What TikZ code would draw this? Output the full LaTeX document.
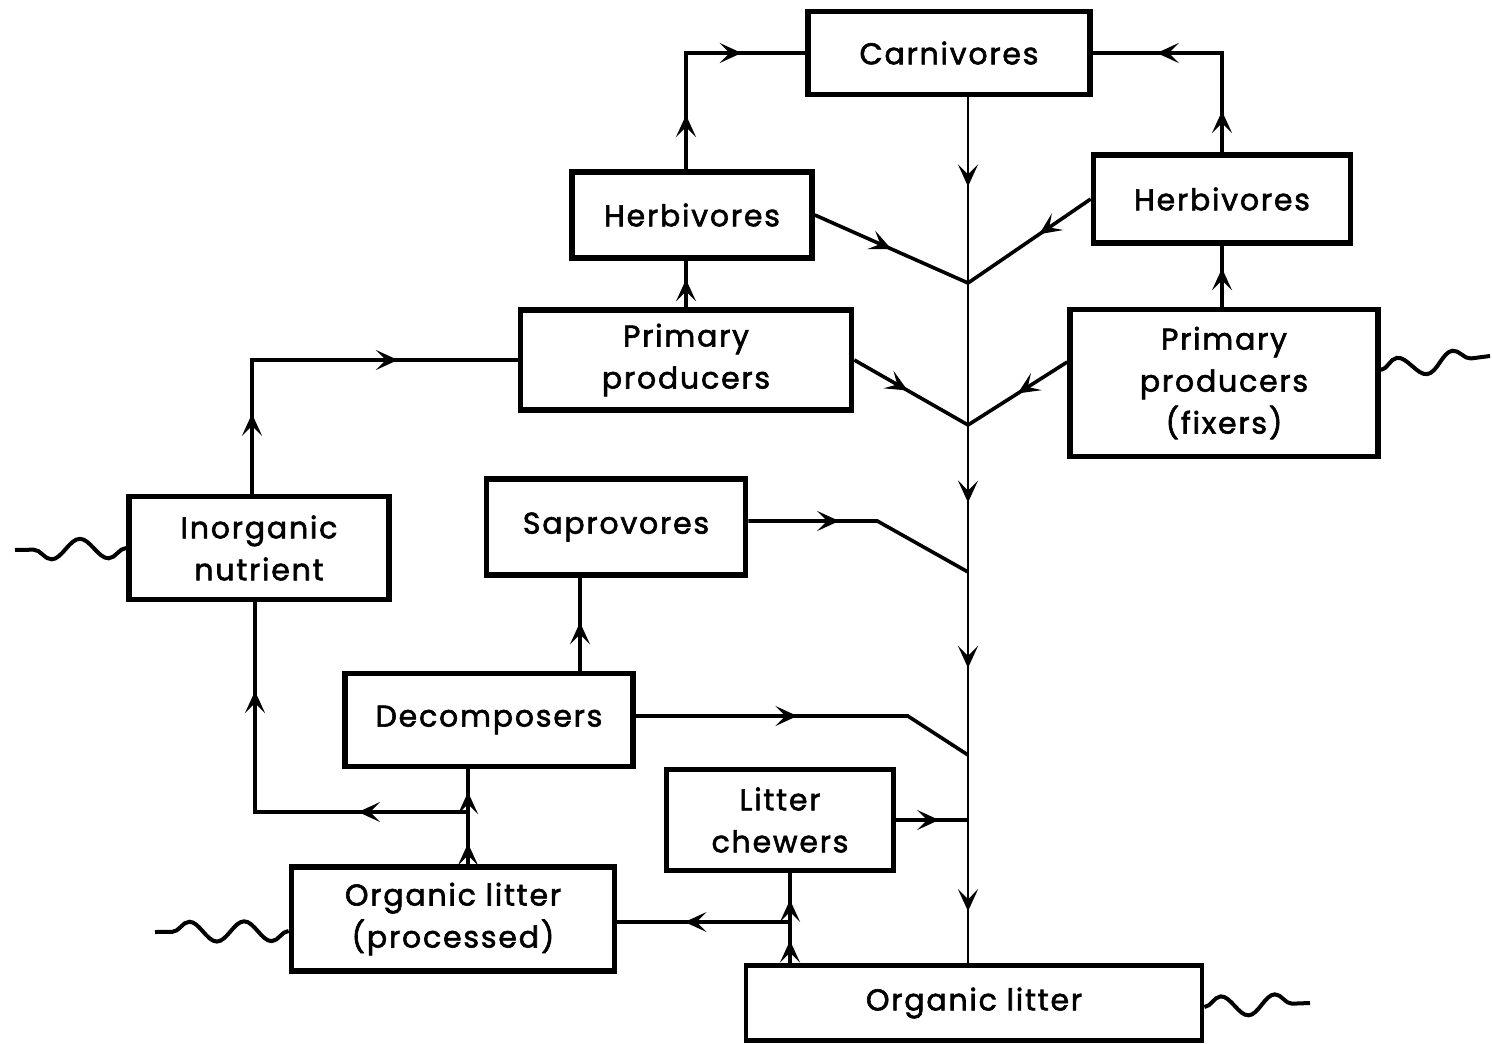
\documentclass[tikz,border=0pt]{standalone}
\usepackage{fontspec}
\setmainfont{Poppins}[LetterSpace=6, FakeBold=2]
\usetikzlibrary{arrows.meta,decorations.markings,decorations.pathmorphing,calc}
\begin{document}
\begin{tikzpicture}[x=0.5pt,y=-0.5pt,
  box/.style={draw, line width=2.8pt, align=center, inner sep=0pt,
    font=\fontsize{15}{21}\selectfont},
  sz/.style 2 args={minimum width=#1*0.5pt, minimum height=#2*0.5pt},
  conn/.style={line width=1.8pt},
  trunk/.style={line width=1.3pt},
  arr/.style={postaction={decorate,decoration={markings,
    mark=at position #1 with {\arrow{Stealth[length=11pt,width=10pt,inset=5pt]}}}}},
  wave/.style={line width=2pt, decorate,
    decoration={snake, amplitude=5pt, segment length=#1}},
]
\useasboundingbox (0,0) rectangle (1492,1043);

% boxes
\node[box, sz={282}{83}]  (carn)   at (949,53)   {Carnivores};
\node[box, sz={240}{86}]  (herbL)  at (692,215)  {Herbivores};
\node[box, sz={257}{88}]  (herbR)  at (1222,199) {Herbivores};
\node[box, sz={331}{100}] (ppL)    at (686,360)  {Primary\\producers};
\node[box, sz={308}{147}] (ppR)    at (1224,383) {Primary\\producers\\(fixers)};
\node[box, sz={260}{103}] (inorg)  at (259,548)  {Inorganic\\nutrient};
\node[box, sz={259}{96}]  (sapro)  at (616,527)  {Saprovores};
\node[box, sz={288}{93}]  (decomp) at (489,720)  {Decomposers};
\node[box, sz={227}{101}, line width=2.3pt] (chew) at (780,820) {Litter\\chewers};
\node[box, sz={323}{104}] (olp)    at (453,919)  {Organic litter\\(processed)};
\node[box, sz={456}{75}, line width=2.3pt]  (ol) at (974,1003) {Organic litter};

% junction coordinates
\coordinate (tx) at (968,0);
\coordinate (jH) at (968,283);
\coordinate (jP) at (968,425);
\coordinate (jS) at (968,572);
\coordinate (jD) at (968,755);
\coordinate (jC) at (968,820);
\coordinate (xs) at (580,0);
\coordinate (xd) at (468,0);
\coordinate (b1) at (468,812);
\coordinate (b2) at (790,922);
\coordinate (xi) at (255,0);

% trunk
\draw[trunk, arr=0.103, arr=0.468, arr=0.659, arr=0.94]
  (carn.south -| tx) -- (ol.north -| tx);

% into trunk
\draw[conn, arr=0.5]  (herbL.east) -- (jH);
\draw[conn, arr=0.42] (herbR.west) -- (jH);
\draw[conn, arr=0.47] (ppL.east) -- (jP);
\draw[conn, arr=0.5]  ($(ppR.west)+(0,-21)$) -- (jP);
\draw[conn, arr=0.39] ($(sapro.east)+(0,-6)$) -- ($(sapro.east)+(129,-6)$) -- (jS);
\draw[conn, arr=0.47] ($(decomp.east)+(0,-4)$) -- ($(decomp.east)+(272,-4)$) -- (jD);
\draw[conn, arr=0.6] (chew.east) -- (jC);

% upward flows
\draw[conn, arr=0.23, arr=0.73] (ppL.north |- herbL.north) |- (carn.west);
\draw[conn, arr=0.18, arr=0.72] (herbR.north) |- (carn.east);
\draw[conn, arr=0.6] (ppL.north) -- (ppL.north |- herbL.south);
\draw[conn, arr=0.63] (ppR.north -| herbR.north) -- (herbR.south);
\draw[conn, arr=0.2, arr=0.70] ($(inorg.north)+(-7,0)$) |- (ppL.west);
\draw[conn, arr=0.52] (decomp.north -| xs) -- (sapro.south -| xs);
\draw[conn, arr=0.22, arr=0.76] (olp.north -| xd) -- (decomp.south -| xd);
\draw[conn, arr=0.26, arr=0.79] (b1) -| (inorg.south -| xi);
\draw[conn, arr=0.55] (ol.north -| b2) -- (b2);
\draw[conn, arr=0.61] (b2) -- (b2 -| olp.east);
\draw[conn, arr=0.45] (b2) -- (chew.south -| b2);

% wavy inputs
\coordinate (wR)  at (1490,356);
\coordinate (wI)  at (15,550);
\coordinate (wO)  at (155,932);
\coordinate (wL)  at (1310,1003);
\draw[wave=28pt] ($(ppR.east)+(0,-13)$) -- (wR);
\draw[wave=28.5pt] (inorg.west) -- (wI);
\draw[wave=27.4pt] ($(olp.west)+(0,12)$) -- (wO);
\draw[wave=27pt] ($(ol.east)+(0,4)$) -- (wL);
\end{tikzpicture}
\end{document}
